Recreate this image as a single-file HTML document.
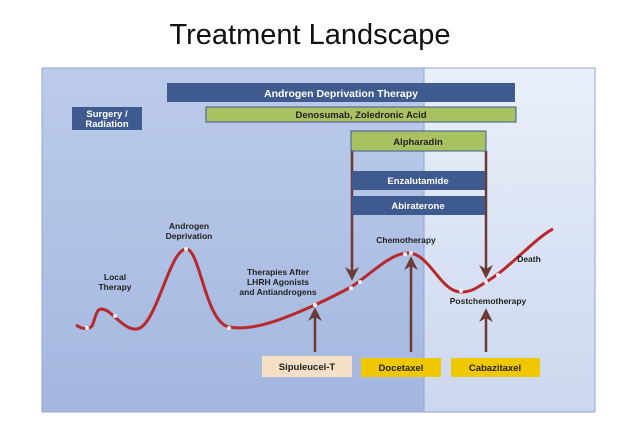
<!DOCTYPE html>
<html><head><style>
body{margin:0;width:620px;height:435px;background:#fff;overflow:hidden;font-family:"Liberation Sans",sans-serif}
</style></head><body>
<svg width="620" height="435" xmlns="http://www.w3.org/2000/svg" font-family="Liberation Sans, sans-serif">
<defs>
<linearGradient id="gl" x1="0" y1="0" x2="0" y2="1"><stop offset="0" stop-color="#bccbea"/><stop offset="1" stop-color="#a3b7df"/></linearGradient>
<linearGradient id="gr" x1="0" y1="0" x2="0" y2="1"><stop offset="0" stop-color="#eaf0f9"/><stop offset="1" stop-color="#cbd7ef"/></linearGradient>
<marker id="ah" viewBox="0 0 10 10" refX="8" refY="5" markerWidth="5.5" markerHeight="5.5" orient="auto"><path d="M0,0 L10,5 L0,10 L3,5 z" fill="#6b3a33"/></marker>
</defs>
<text x="310" y="44" font-size="29" text-anchor="middle" fill="#111">Treatment Landscape</text>
<rect x="42" y="68" width="382" height="344" fill="url(#gl)"/>
<rect x="424" y="68" width="171" height="344" fill="url(#gr)"/>
<rect x="42" y="68" width="553" height="344" fill="none" stroke="#8fa6d4" stroke-width="1"/>
<line x1="424" y1="68" x2="424" y2="412" stroke="#8fa6d4"/>
<rect x="167" y="83" width="348" height="19" fill="#3f5a8e"/>
<text x="341" y="97" font-size="10.5" font-weight="bold" fill="#fff" text-anchor="middle">Androgen Deprivation Therapy</text>
<rect x="206" y="107" width="310" height="15" fill="#a9c161" stroke="#3f5a8e"/>
<text x="361" y="118" font-size="9.5" font-weight="bold" fill="#222" text-anchor="middle">Denosumab, Zoledronic Acid</text>
<rect x="72" y="107" width="70" height="23" fill="#3f5a8e"/>
<text x="107" y="117" font-size="9.5" font-weight="bold" fill="#fff" text-anchor="middle">Surgery /</text>
<text x="107" y="127" font-size="9.5" font-weight="bold" fill="#fff" text-anchor="middle">Radiation</text>
<line x1="352" y1="151" x2="352" y2="278" stroke="#6b3a33" stroke-width="2.5" marker-end="url(#ah)"/>
<line x1="486" y1="151" x2="486" y2="276" stroke="#6b3a33" stroke-width="2.5" marker-end="url(#ah)"/>
<rect x="351" y="131" width="135" height="20" fill="#a9c161" stroke="#3f5a8e"/>
<text x="418" y="145" font-size="9.5" font-weight="bold" fill="#222" text-anchor="middle">Alpharadin</text>
<rect x="352" y="171" width="133" height="19" fill="#3f5a8e"/>
<text x="418" y="184" font-size="9.5" font-weight="bold" fill="#fff" text-anchor="middle">Enzalutamide</text>
<rect x="352" y="196" width="133" height="19" fill="#3f5a8e"/>
<text x="418" y="209" font-size="9.5" font-weight="bold" fill="#fff" text-anchor="middle">Abiraterone</text>
<path d="M76,325 C82,329 88,330 92,326 C95,320 96,309 101,309 C107,309 111,314 117,319 C124,325 132,332 140,328 C158,318 170,250 186,249 C200,248 205,322 229,327 C255,332 290,316 315,305 C330,298 340,293 351,287 C370,275 390,253 408,253 C430,253 440,292 461,292 C472,292 478,287 486,282 C510,268 535,238 553,229" fill="none" stroke="#b8292b" stroke-width="3"/>
<g fill="#fff" opacity="0.9">
<circle cx="87" cy="328" r="2"/><circle cx="115" cy="316" r="2"/><circle cx="186" cy="249" r="2"/><circle cx="229" cy="328" r="2"/><circle cx="315" cy="305" r="2"/><circle cx="351" cy="288" r="2"/><circle cx="360" cy="282" r="2"/><circle cx="405" cy="254" r="2"/><circle cx="411" cy="253" r="2"/><circle cx="461" cy="291" r="2"/><circle cx="486" cy="282" r="2"/><circle cx="498" cy="275" r="2"/>
</g>
<line x1="315" y1="352" x2="315" y2="310" stroke="#6b3a33" stroke-width="2.5" marker-end="url(#ah)"/>
<line x1="411" y1="352" x2="411" y2="259" stroke="#6b3a33" stroke-width="2.5" marker-end="url(#ah)"/>
<line x1="486" y1="352" x2="486" y2="311" stroke="#6b3a33" stroke-width="2.5" marker-end="url(#ah)"/>
<rect x="262" y="356" width="90" height="21" fill="#f5dfc6"/>
<text x="307" y="370" font-size="9.5" font-weight="bold" fill="#222" text-anchor="middle">Sipuleucel-T</text>
<rect x="361" y="358" width="80" height="19" fill="#f0c800"/>
<text x="401" y="371" font-size="9.5" font-weight="bold" fill="#222" text-anchor="middle">Docetaxel</text>
<rect x="451" y="358" width="89" height="19" fill="#f0c800"/>
<text x="495" y="371" font-size="9.5" font-weight="bold" fill="#222" text-anchor="middle">Cabazitaxel</text>
<g font-size="8.5" font-weight="bold" fill="#222" text-anchor="middle">
<text x="115" y="280">Local</text><text x="115" y="290">Therapy</text>
<text x="189" y="229">Androgen</text><text x="189" y="239">Deprivation</text>
<text x="278" y="275">Therapies After</text><text x="278" y="285">LHRH Agonists</text><text x="278" y="295">and Antiandrogens</text>
<text x="406" y="243">Chemotherapy</text>
<text x="529" y="262">Death</text>
<text x="488" y="304">Postchemotherapy</text>
</g>
</svg>
</body></html>
